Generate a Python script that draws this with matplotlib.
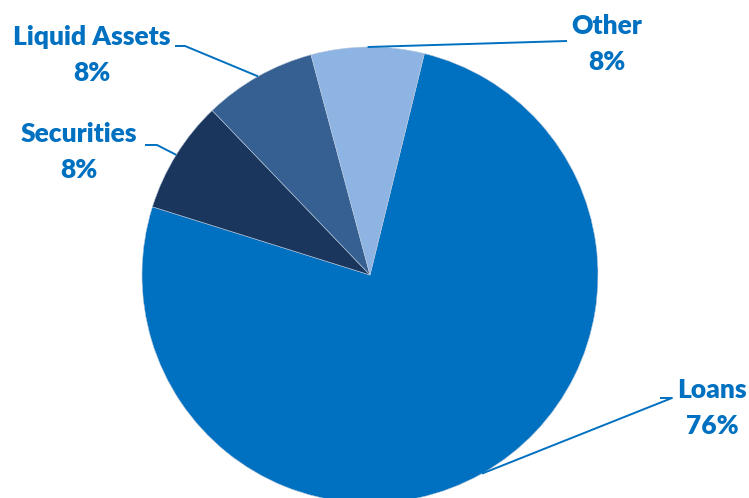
import matplotlib
matplotlib.use('Agg')
import matplotlib.pyplot as plt
import numpy as np

names = ['Loans', 'Securities', 'Liquid Assets', 'Other']
shares = [76, 8, 8, 8]
colors = ['#0070C0', '#1A365D', '#366092', '#8EB4E3']
text_blue = '#0070C0'

W, H = 749, 498
fig = plt.figure(figsize=(W / 100, H / 100), dpi=100)
ax = fig.add_axes([0, 0, 1, 1])

cx, cy, r = 370, H - 275, 228
start = 76.2
wedges, _ = ax.pie(shares, colors=colors, startangle=start, counterclock=False,
                   center=(cx, cy), radius=r, frame=True,
                   wedgeprops=dict(edgecolor='#b8c8dc', linewidth=0.4))
ax.set_xlim(0, W)
ax.set_ylim(0, H)
ax.set_aspect('equal')
ax.axis('off')

# label text position (pixel coords from top) and the elbow of each leader line
label_xy = {'Loans': (712, 408), 'Securities': (79, 152),
            'Liquid Assets': (92, 55), 'Other': (607, 44)}
elbows = {'Loans': [(672, 398), (660, 398)], 'Securities': [(157, 145), (145, 145)],
          'Liquid Assets': [(185, 46), (175, 46)], 'Other': [(567, 41)]}

for w, name, val in zip(wedges, names, shares):
    mid = np.deg2rad((w.theta1 + w.theta2) / 2)
    ex, ey = cx + r * np.cos(mid), cy + r * np.sin(mid)
    pts = [(ex, ey)] + [(x, H - y) for x, y in elbows[name]]
    xs, ys = zip(*pts)
    ax.plot(xs, ys, color=text_blue, lw=1.4, solid_capstyle='butt')
    tx, ty = label_xy[name]
    ax.text(tx, H - ty, f'{name}\n{val}%', ha='center', va='center',
            color=text_blue, fontsize=19, fontweight='heavy', family='Lato',
            linespacing=1.6)

fig.savefig('out.png', dpi=100)
